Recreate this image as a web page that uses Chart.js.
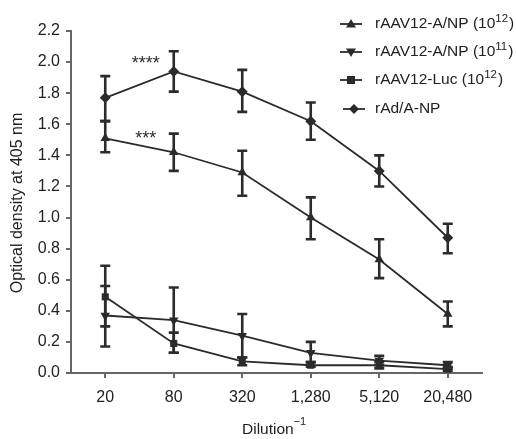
<!DOCTYPE html>
<html>
<head>
<meta charset="utf-8">
<script src="https://cdn.jsdelivr.net/npm/chart.js@4.4.0/dist/chart.umd.min.js"></script>
<style>
  html, body { margin: 0; padding: 0; background: #fff; }
  #wrap { width: 516px; height: 439px; }
</style>
</head>
<body>
<div id="wrap"><canvas id="chart" width="516" height="439"></canvas></div>
<script>
const dilutions = ['20', '80', '320', '1,280', '5,120', '20,480'];

// rAAV12-A/NP (10^12)
const aav12 = [1.51, 1.42, 1.29, 1.00, 0.73, 0.38];
const aav12Hi = [1.62, 1.54, 1.43, 1.13, 0.86, 0.46];
const aav12Lo = [1.42, 1.30, 1.14, 0.86, 0.61, 0.30];

// rAAV12-A/NP (10^11)
const aav11 = [0.37, 0.34, 0.24, 0.13, 0.08, 0.05];
const aav11Hi = [0.56, 0.55, 0.38, 0.20, 0.11, 0.07];
const aav11Lo = [0.17, 0.13, 0.10, 0.07, 0.05, 0.03];

// rAAV12-Luc (10^12)
const luc = [0.49, 0.19, 0.075, 0.05, 0.05, 0.025];
const lucHi = [0.69, 0.26, 0.10, 0.07, 0.07, 0.04];
const lucLo = [0.30, 0.13, 0.05, 0.04, 0.03, 0.015];

// rAd/A-NP
const adnp = [1.77, 1.94, 1.81, 1.62, 1.30, 0.87];
const adnpHi = [1.91, 2.07, 1.95, 1.74, 1.40, 0.96];
const adnpLo = [1.62, 1.81, 1.68, 1.50, 1.20, 0.77];

const legendNames = ['rAAV12-A/NP (10', 'rAAV12-A/NP (10', 'rAAV12-Luc (10', 'rAd/A-NP'];
const legendSups = ['12', '11', '12', ''];

// significance marks: text, category index, y value
const starText = ['****', '***'];
const starIndex = [1, 1];
const starValue = [2.02, 1.54];

const ink = '#2b2b2b';
const axisGrey = '#666';
const font = 'Liberation Sans, Arial, Helvetica, sans-serif';

function drawMarker(ctx, shape, x, y, r) {
  ctx.beginPath();
  if (shape === 'up') {
    ctx.moveTo(x, y - r); ctx.lineTo(x + r, y + r * 0.7); ctx.lineTo(x - r, y + r * 0.7);
  } else if (shape === 'down') {
    ctx.moveTo(x, y + r); ctx.lineTo(x + r, y - r * 0.7); ctx.lineTo(x - r, y - r * 0.7);
  } else if (shape === 'square') {
    ctx.rect(x - r * 0.8, y - r * 0.8, r * 1.6, r * 1.6);
  } else {
    ctx.moveTo(x, y - r); ctx.lineTo(x + r, y); ctx.lineTo(x, y + r); ctx.lineTo(x - r, y);
  }
  ctx.closePath();
  ctx.fill();
}

const errorBars = {
  id: 'errorBars',
  afterDatasetsDraw(chart) {
    const ctx = chart.ctx;
    const xs = chart.scales.x, ys = chart.scales.y;
    ctx.save();
    ctx.strokeStyle = ink;
    ctx.lineWidth = 2.6;
    chart.data.datasets.forEach(ds => {
      ds.hi.forEach((h, i) => {
        const x = xs.getPixelForValue(i);
        const y1 = ys.getPixelForValue(h);
        const y2 = ys.getPixelForValue(ds.lo[i]);
        ctx.beginPath();
        ctx.moveTo(x, y1); ctx.lineTo(x, y2);
        ctx.moveTo(x - 5, y1); ctx.lineTo(x + 5, y1);
        ctx.moveTo(x - 5, y2); ctx.lineTo(x + 5, y2);
        ctx.stroke();
      });
    });
    ctx.restore();
  }
};

const extras = {
  id: 'extras',
  afterDraw(chart) {
    const ctx = chart.ctx;
    const xs = chart.scales.x, ys = chart.scales.y;
    ctx.save();
    ctx.fillStyle = ink;

    // stars
    ctx.font = '18px ' + font;
    ctx.textAlign = 'center';
    ctx.textBaseline = 'alphabetic';
    const step = xs.getPixelForValue(1) - xs.getPixelForValue(0);
    starText.forEach((t, i) => {
      const x = xs.getPixelForValue(starIndex[i]) - step * 0.41;
      ctx.fillText(t, x, ys.getPixelForValue(starValue[i]) + 10);
    });

    // axis titles
    ctx.font = '16px ' + font;
    ctx.fillStyle = '#222';
    ctx.textAlign = 'center';
    ctx.textBaseline = 'middle';
    ctx.save();
    ctx.translate(18, 203);
    ctx.rotate(-Math.PI / 2);
    ctx.fillText('Optical density at 405 nm', 0, 0);
    ctx.restore();

    ctx.font = '15.5px ' + font;
    const base = 'Dilution';
    const w = ctx.measureText(base).width;
    ctx.textAlign = 'left';
    ctx.fillText(base, 242, 430);
    ctx.font = '11px ' + font;
    ctx.fillText('\u22121', 242 + w, 422);

    // legend
    const shapes = ['up', 'down', 'square', 'diamond'];
    const rows = [24, 52, 80, 109];
    shapes.forEach((s, i) => {
      const y = rows[i];
      const sx = i === 3 ? 354 : 351;
      ctx.strokeStyle = ink;
      ctx.lineWidth = 1.8;
      ctx.beginPath();
      ctx.moveTo(sx - 11, y); ctx.lineTo(sx + 11, y);
      ctx.stroke();
      ctx.fillStyle = ink;
      drawMarker(ctx, s, sx, y, 5);
      ctx.fillStyle = '#222';
      ctx.font = '15.5px ' + font;
      ctx.textBaseline = 'middle';
      ctx.fillText(legendNames[i], 375, y);
      if (legendSups[i]) {
        const tw = ctx.measureText(legendNames[i]).width;
        ctx.font = '11.5px ' + font;
        ctx.fillText(legendSups[i], 375 + tw, y - 5);
        const sw = ctx.measureText(legendSups[i]).width;
        ctx.font = '15.5px ' + font;
        ctx.fillText(')', 376 + tw + sw, y);
      }
    });
    ctx.restore();
  }
};

function series(data, hi, lo, style, rotation) {
  return {
    data: data, hi: hi, lo: lo,
    borderColor: ink, backgroundColor: ink,
    borderWidth: 1.8,
    pointStyle: style, rotation: rotation || 0,
    pointRadius: style === 'rect' ? 5 : 5.5,
    pointBorderWidth: 0,
    pointBackgroundColor: ink,
    tension: 0
  };
}

new Chart(document.getElementById('chart'), {
  type: 'line',
  data: {
    labels: dilutions,
    datasets: [
      series(aav12, aav12Hi, aav12Lo, 'triangle'),
      series(aav11, aav11Hi, aav11Lo, 'triangle', 180),
      series(luc, lucHi, lucLo, 'rect'),
      series(adnp, adnpHi, adnpLo, 'rectRot')
    ]
  },
  options: {
    responsive: false,
    animation: false,
    layout: { padding: { top: 31, right: 34, left: 0, bottom: 0 } },
    plugins: { legend: { display: false }, tooltip: { enabled: false } },
    scales: {
      x: {
        type: 'category',
        offset: true,
        afterFit: s => { s.height = 66; },
        grid: { drawOnChartArea: false, offset: false, color: axisGrey, tickLength: 5, lineWidth: 2 },
        border: { color: axisGrey, width: 2 },
        ticks: { color: '#222', font: { family: font, size: 16 }, padding: 10, maxRotation: 0 }
      },
      y: {
        min: 0, max: 2.2,
        afterFit: s => { s.width = 71; },
        grid: { drawOnChartArea: false, color: axisGrey, tickLength: 5, lineWidth: 2 },
        border: { color: axisGrey, width: 2 },
        ticks: {
          stepSize: 0.2, color: '#222', padding: 6,
          font: { family: font, size: 16 },
          callback: v => v.toFixed(1)
        }
      }
    }
  },
  plugins: [errorBars, extras]
});
</script>
</body>
</html>
